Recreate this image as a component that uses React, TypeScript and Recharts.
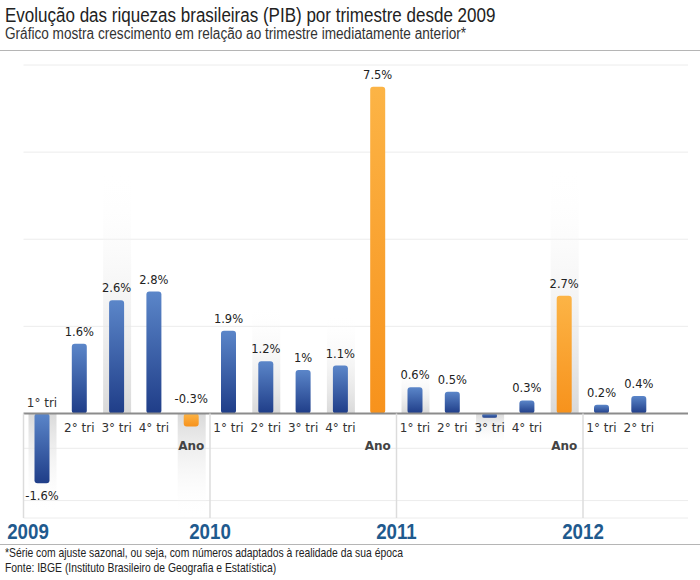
import { BarChart, Bar, XAxis, YAxis, CartesianGrid, ReferenceLine, Cell, LabelList } from "recharts";

// Variação do PIB (%) sobre o período anterior, por trimestre, e o total de cada ano
const periodos = ["1° tri", "2° tri", "3° tri", "4° tri", "Ano", "1° tri", "2° tri", "3° tri", "4° tri", "Ano", "1° tri", "2° tri", "3° tri", "4° tri", "Ano", "1° tri", "2° tri"];
const anoDoPeriodo = [2009, 2009, 2009, 2009, 2009, 2010, 2010, 2010, 2010, 2010, 2011, 2011, 2011, 2011, 2011, 2012, 2012];
const variacao = [-1.6, 1.6, 2.6, 2.8, -0.3, 1.9, 1.2, 1, 1.1, 7.5, 0.6, 0.5, -0.1, 0.3, 2.7, 0.2, 0.4];
// faixas cinza decorativas atrás de algumas barras
const sombra = [-2.3, 0, 5.6, 0, -2.4, 0, 2.5, 0, 2.3, 0, 1, 0, -0.7, 0, 5.7, 0, 0];
const semRotulo = ["3° tri 2011"];
const anos = ["2009", "2010", "2011", "2012"];
const gradeY = [-2, -0.8, 0, 2, 4, 6, 8];

const dados = periodos.map((p, i) => ({
    id: `${p} ${anoDoPeriodo[i]}`,
    periodo: p,
    valor: variacao[i],
    sombra: sombra[i],
}));

const Y_MIN = -2.4;
const Y_MAX = 8;

const fonteTexto = '"DejaVu Sans", sans-serif';
const fonteTitulo = '"Liberation Sans", Arial, sans-serif';
// sem a versão "Narrow" instalada, o texto é comprimido na horizontal
const estreito = { transform: "scaleX(0.85)", transformOrigin: "0 0" };

// Rótulos de valor e nome do período em volta de cada barra
function Rotulos(props: any) {
    const vb = props.viewBox ?? props;
    const i = props.index;
    const d = dados[i];
    if (!d || vb == null) return null;
    const cx = vb.x + vb.width / 2;
    const topo = Math.min(vb.y, vb.y + vb.height);
    const base = Math.max(vb.y, vb.y + vb.height);
    const negativo = d.valor < 0;
    const zero = negativo ? topo : base;
    const fim = negativo ? base : topo;
    const ehAno = d.periodo === "Ano";
    const mostraValor = !semRotulo.includes(d.id);

    let yValor = fim - 8;
    if (negativo) yValor = ehAno ? zero - 10 : fim + 17;

    const nomeAcima = negativo && !ehAno && fim - zero > 20;
    const yNome = ehAno ? zero + 37 : nomeAcima ? zero - 6 : zero + 19;

    return (
        <g>
            {mostraValor && (
                <text x={cx} y={yValor} textAnchor="middle" fontFamily={fonteTexto} fontSize={11.5} fill="#222">
                    {`${d.valor}%`}
                </text>
            )}
            <text
                x={cx}
                y={yNome}
                textAnchor="middle"
                fontFamily={fonteTexto}
                fontSize={12}
                fontWeight={ehAno ? "bold" : "normal"}
                fill={ehAno ? "#444" : "#333"}
            >
                {d.periodo}
            </text>
        </g>
    );
}

function AnoRotulo(props: any) {
    const { viewBox, texto } = props;
    if (!viewBox) return null;
    const cx = Math.max(viewBox.x, 28);
    return (
        <text
            transform={`translate(${cx},${viewBox.y + viewBox.height + 21}) scale(0.85,1)`}
            textAnchor="middle"
            fontFamily={fonteTitulo}
            fontWeight="bold"
            fontSize={22}
            fill="#1f5a8e"
        >
            {texto}
        </text>
    );
}

// separadores de ano: início do primeiro período ou fim do "Ano" anterior
const separadores = anos.map((ano) => {
    const i = anoDoPeriodo.indexOf(Number(ano));
    return i === 0
        ? { ano, id: dados[0].id, posicao: "start" as const }
        : { ano, id: dados[i - 1].id, posicao: "end" as const };
});

export default function App() {
    return (
        <div style={{ position: "absolute", left: 0, top: 0, width: 700, height: 580, background: "#fff", overflow: "hidden" }}>
            <BarChart
                width={700}
                height={580}
                data={dados}
                margin={{ top: 65, right: 12, bottom: 62, left: 23.5 }}
            >
                <defs>
                    <linearGradient id="azul" x1="0" y1="0" x2="0" y2="1">
                        <stop offset="0%" stopColor="#5b86c9" />
                        <stop offset="100%" stopColor="#1f3d88" />
                    </linearGradient>
                    <linearGradient id="laranja" x1="0" y1="0" x2="0" y2="1">
                        <stop offset="0%" stopColor="#fcb446" />
                        <stop offset="100%" stopColor="#f7921c" />
                    </linearGradient>
                    <linearGradient id="sombraCima" x1="0" y1="0" x2="0" y2="1">
                        <stop offset="0%" stopColor="#ffffff" stopOpacity={0} />
                        <stop offset="100%" stopColor="#d9d9d9" />
                    </linearGradient>
                    <linearGradient id="sombraBaixo" x1="0" y1="0" x2="0" y2="1">
                        <stop offset="0%" stopColor="#d9d9d9" />
                        <stop offset="100%" stopColor="#ffffff" stopOpacity={0} />
                    </linearGradient>
                </defs>
                <CartesianGrid vertical={false} stroke="#ececec" />
                <XAxis dataKey="id" hide padding={{ left: 0, right: 30.4 }} />
                <XAxis xAxisId="fundo" dataKey="id" hide padding={{ left: 0, right: 30.4 }} />
                <YAxis hide domain={[Y_MIN, Y_MAX]} ticks={gradeY} allowDataOverflow />
                <Bar xAxisId="fundo" dataKey="sombra" barSize={28} isAnimationActive={false}>
                    {dados.map((d) => (
                        <Cell key={d.id} fill={d.sombra < 0 ? "url(#sombraBaixo)" : "url(#sombraCima)"} />
                    ))}
                </Bar>
                <Bar dataKey="valor" barSize={15} radius={3} isAnimationActive={false}>
                    {dados.map((d) => (
                        <Cell key={d.id} fill={d.periodo === "Ano" ? "url(#laranja)" : "url(#azul)"} />
                    ))}
                    <LabelList dataKey="valor" content={<Rotulos />} />
                </Bar>
                <ReferenceLine y={0} stroke="#8c8c8c" strokeWidth={2} />
                {separadores.map((s) => (
                    <ReferenceLine
                        key={s.ano}
                        segment={[{ x: s.id, y: 0 }, { x: s.id, y: Y_MIN }]}
                        position={s.posicao}
                        stroke="#dcdcdc"
                        strokeWidth={1.5}
                        ifOverflow="visible"
                        label={<AnoRotulo texto={s.ano} />}
                    />
                ))}
            </BarChart>

            <div style={{ position: "absolute", left: 5, top: 5, fontFamily: fonteTitulo, fontSize: 20, lineHeight: "20px", color: "#222", whiteSpace: "nowrap", ...estreito }}>
                Evolução das riquezas brasileiras (PIB) por trimestre desde 2009
            </div>
            <div style={{ position: "absolute", left: 5, top: 26, fontFamily: fonteTitulo, fontSize: 16, lineHeight: "16px", color: "#333", whiteSpace: "nowrap", ...estreito }}>
                Gráfico mostra crescimento em relação ao trimestre imediatamente anterior*
            </div>
            <div style={{ position: "absolute", left: 0, top: 50, width: 700, height: 1, background: "#b5b5b5" }} />
            <div style={{ position: "absolute", left: 0, top: 544, width: 700, height: 1, background: "#b5b5b5" }} />
            <div style={{ position: "absolute", left: 5, top: 546, fontFamily: fonteTitulo, fontSize: 12.2, lineHeight: "15px", color: "#222", whiteSpace: "nowrap", ...estreito }}>
                *Série com ajuste sazonal, ou seja, com números adaptados à realidade da sua época
                <br />
                Fonte: IBGE (Instituto Brasileiro de Geografia e Estatística)
            </div>
        </div>
    );
}
